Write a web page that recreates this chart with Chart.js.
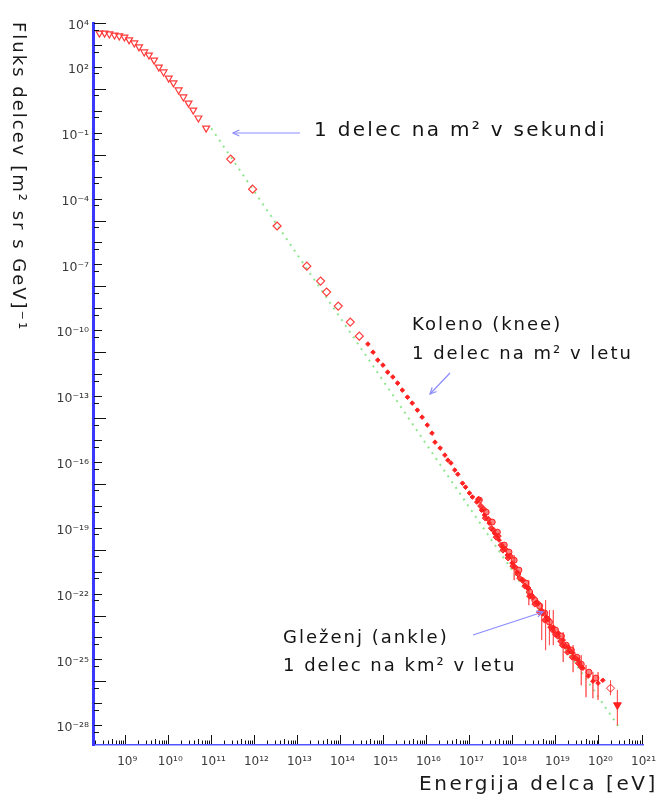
<!DOCTYPE html>
<html><head><meta charset="utf-8">
<script src="https://cdn.jsdelivr.net/npm/chart.js@4.4.1/dist/chart.umd.min.js"></script>
<style>html,body{margin:0;padding:0;background:#fff}canvas{display:block}</style>
</head><body>
<canvas id="c" width="664" height="800" style="width:664px;height:800px"></canvas>
<script>
// ---- DATA (log10 of energy in eV, log10 of flux) ----
const lowE_logE = [8.40,8.52,8.63,8.75,8.86,8.98,9.09,9.21,9.32,9.44,9.55,9.67,9.78,9.89,10.01,10.12,10.24,10.35,10.47,10.58,10.70,10.88];
const lowE_logF = [3.54,3.54,3.50,3.45,3.41,3.36,3.23,3.09,2.91,2.68,2.54,2.31,1.99,1.77,1.49,1.27,0.95,0.63,0.35,0.03,-0.33,-0.79];
const diam_logE = [11.45,11.96,12.53,13.22,13.54,13.68,13.95,14.23,14.44];
const diam_logF = [-2.20,-3.57,-5.25,-7.08,-7.76,-8.26,-8.90,-9.63,-10.27];
const knee_logE = [14.64,14.76,14.87,14.99,15.10,15.22,15.33,15.44,15.56,15.67,15.79,15.90,16.02,16.13,16.20,16.32,16.43,16.50,16.57,16.66,16.73,16.84,16.91,17.00,17.07,17.17,17.28,17.35,17.46,17.58,17.69,17.76,17.88,17.99,18.11,18.22,18.33,18.45,18.56,18.68,18.79,18.95,19.07,19.18,19.30,19.41,19.53,19.64,19.76,19.87,19.99,20.10];
const knee_logF = [-10.63,-11.00,-11.36,-11.59,-11.91,-12.13,-12.41,-12.73,-13.05,-13.32,-13.64,-13.96,-14.32,-14.69,-15.10,-15.37,-15.69,-15.92,-16.05,-16.37,-16.56,-16.97,-17.15,-17.42,-17.60,-17.83,-18.20,-18.42,-18.79,-19.25,-19.56,-19.88,-20.25,-20.61,-21.02,-21.39,-21.71,-22.07,-22.39,-22.76,-23.07,-23.53,-23.80,-24.12,-24.44,-24.71,-25.03,-25.40,-25.76,-25.99,-26.08,-25.95];
const ankle_logE = [17.23,17.39,17.53,17.65,17.81,17.92,18.04,18.15,18.31,18.40,18.52,18.63,18.75,18.86,19.00,19.14,19.25,19.37,19.50,19.60,19.78,19.94];
const ankle_logF = [-17.74,-18.29,-18.74,-19.20,-19.79,-20.11,-20.48,-20.93,-21.52,-21.93,-22.30,-22.57,-22.89,-23.30,-23.66,-23.94,-24.35,-24.58,-24.90,-25.22,-25.58,-25.85];
const band_logE = [17.21,17.26,17.33,17.37,17.44,17.51,17.56,17.62,17.67,17.74,17.78,17.83,17.90,17.95,18.01,18.06,18.13,18.17,18.24,18.29,18.36,18.40,18.47,18.52,18.59,18.63,18.70,18.75,18.82,18.89,18.93,19.00,19.05,19.12,19.16,19.23,19.28,19.34,19.39,19.46,19.53,19.60];
const band_logF = [-17.70,-18.01,-18.15,-18.56,-18.61,-19.02,-19.11,-19.43,-19.38,-19.79,-20.02,-19.97,-20.38,-20.29,-20.75,-20.80,-21.11,-21.30,-21.39,-21.66,-21.75,-22.12,-22.16,-22.48,-22.44,-22.85,-22.89,-23.21,-23.16,-23.53,-23.66,-23.85,-23.94,-24.17,-24.35,-24.40,-24.67,-24.62,-24.90,-24.94,-25.17,-25.35];
const tail_logE = [20.28];
const tail_logF = [-26.31];
const limit_logE = [20.44];
const limit_logF = [-27.08];
const err_logE = [18.04,18.38,18.68,18.77,18.86,18.95,19.18,19.41,19.60,19.71,19.87,19.99,20.28,20.44];
const err_hiF  = [-20.25,-21.39,-22.44,-22.30,-22.75,-22.75,-23.76,-24.35,-24.81,-25.26,-25.58,-25.58,-25.95,-26.40];
const err_loF  = [-21.39,-22.53,-24.12,-24.58,-24.35,-24.35,-25.12,-25.58,-26.18,-26.72,-26.77,-26.85,-26.63,-28.00];
const fit_logE = [11.0, 20.5];
const fit_logF = [-0.80, -28.16];
const xTickExp = [9,10,11,12,13,14,15,16,17,18,19,20,21];
const yTickExp = [4,2,-1,-4,-7,-10,-13,-16,-19,-22,-25,-28];

const SUP = {'0':'⁰','1':'¹','2':'²','3':'³','4':'⁴','5':'⁵','6':'⁶','7':'⁷','8':'⁸','9':'⁹','-':'⁻'};
const supLabel = e => '10' + String(e).split('').map(c=>SUP[c]).join('');
const pts = (xs, ys) => xs.map((x,i)=>({x:10**x, y:10**ys[i]}));

const RED = '#ff2020';
const datasets = [
  {data:pts(limit_logE,limit_logF), pointStyle:'triangle', rotation:180, pointRadius:4.5, backgroundColor:RED, borderColor:RED, borderWidth:1},
  {data:pts(tail_logE,tail_logF), pointStyle:'rectRot', pointRadius:4, backgroundColor:'rgba(0,0,0,0)', borderColor:RED, borderWidth:1},
  {data:pts(knee_logE,knee_logF), pointStyle:'rectRot', pointRadius:2.3, backgroundColor:RED, borderColor:RED, borderWidth:1},
  {data:pts(band_logE,band_logF), pointStyle:'rectRot', pointRadius:3, backgroundColor:'rgba(255,30,30,0.85)', borderColor:RED, borderWidth:1},
  {data:pts(ankle_logE,ankle_logF), pointStyle:'circle', pointRadius:3, backgroundColor:'rgba(255,40,40,0.6)', borderColor:RED, borderWidth:1},
  {data:pts(diam_logE,diam_logF), pointStyle:'rectRot', pointRadius:4, backgroundColor:'rgba(0,0,0,0)', borderColor:'#ff3a3a', borderWidth:1.2},
  {data:pts(lowE_logE,lowE_logF), pointStyle:'triangle', rotation:180, pointRadius:4, backgroundColor:'rgba(0,0,0,0)', borderColor:'#ff3a3a', borderWidth:1.2},
];
err_logE.forEach((e,i)=>{
  datasets.push({type:'line', data:pts([e,e],[err_hiF[i],err_loF[i]]), borderColor:'rgba(255,70,70,0.6)', borderWidth:1, pointRadius:0, showLine:true});
});
datasets.push({type:'line', data:pts(fit_logE,fit_logF), borderColor:'#8fe68f', borderWidth:2, borderDash:[2,5], pointRadius:0, showLine:true});

const tickPlugin = {
  id:'inTicks',
  afterDraw(chart){
    const {ctx, scales:{x,y}, chartArea:a} = chart;
    ctx.save(); ctx.strokeStyle='#111'; ctx.lineWidth=1;
    for (let e=4; e>=-29; e--) {
      const marks = [[10**e, ((4-e)%3===0)?12:8],[5*10**(e-1),5]];
      for (const [v,len] of marks) {
        const py = Math.round(y.getPixelForValue(v))+0.5;
        if (py < a.top-0.6 || py > a.bottom) continue;
        ctx.beginPath(); ctx.moveTo(a.left+1, py); ctx.lineTo(a.left+1+len, py); ctx.stroke();
      }
    }
    for (let e=8; e<=21; e++) {
      for (let k=1; k<=9; k++) {
        const v = k*10**e;
        const px = Math.round(x.getPixelForValue(v))+0.5;
        if (px < a.left+2 || px > a.right+0.5) continue;
        const len = k===1 ? 9 : (k===5 ? 5 : 3.5);
        ctx.beginPath(); ctx.moveTo(px, a.bottom-1); ctx.lineTo(px, a.bottom-1-len); ctx.stroke();
      }
    }
    ctx.restore();
  }
};

function arrow(ctx, x1,y1,x2,y2){
  ctx.beginPath(); ctx.moveTo(x1,y1); ctx.lineTo(x2,y2); ctx.stroke();
  const ang = Math.atan2(y2-y1, x2-x1), h=7;
  ctx.beginPath();
  ctx.moveTo(x2 - h*Math.cos(ang-0.45), y2 - h*Math.sin(ang-0.45));
  ctx.lineTo(x2,y2);
  ctx.lineTo(x2 - h*Math.cos(ang+0.45), y2 - h*Math.sin(ang+0.45));
  ctx.stroke();
}
const notePlugin = {
  id:'notes',
  afterDraw(chart){
    const ctx = chart.ctx;
    ctx.save();
    ctx.strokeStyle='#8c8cff'; ctx.lineWidth=1.2;
    arrow(ctx, 300,133, 233,133);
    arrow(ctx, 450,373, 430,394);
    arrow(ctx, 473,635, 543,612);
    ctx.fillStyle='#141414'; ctx.textBaseline='middle'; ctx.textAlign='left';
    ctx.font = '20px "DejaVu Sans"'; ctx.letterSpacing='2.3px';
    ctx.fillText('1 delec na m² v sekundi', 314, 131);
    ctx.font = '18px "DejaVu Sans"'; ctx.letterSpacing='2px';
    ctx.fillText('Koleno (knee)', 412, 325);
    ctx.fillText('1 delec na m² v letu', 412, 354);
    ctx.fillText('Gleženj (ankle)', 283, 638);
    ctx.fillText('1 delec na km² v letu', 283, 666);
    // axis titles
    ctx.fillStyle='#1a1a1a';
    ctx.font = '20px "DejaVu Sans"'; ctx.letterSpacing='2.6px'; ctx.textAlign='right';
    ctx.fillText('Energija delca [eV]', 658, 785);
    ctx.translate(18, 22); ctx.rotate(Math.PI/2);
    ctx.font = '18px "DejaVu Sans"'; ctx.letterSpacing='2px'; ctx.textAlign='left';
    ctx.fillText('Fluks delcev [m² sr s GeV]⁻¹', 0, 0);
    ctx.restore();
  }
};

new Chart(document.getElementById('c'), {
  type:'scatter',
  data:{datasets},
  plugins:[tickPlugin, notePlugin],
  options:{
    responsive:false, animation:false, devicePixelRatio:1,
    layout:{padding:{top:23, right:13, left:0, bottom:0}},
    plugins:{legend:{display:false}, tooltip:{enabled:false}},
    scales:{
      x:{
        type:'logarithmic', min:10**8.25, max:10**21.05,
        afterBuildTicks(s){ s.ticks = xTickExp.map(e=>({value:10**e})); },
        ticks:{autoSkip:false, maxRotation:0, minRotation:0, padding:10, labelOffset:2, color:'#3a3a3a',
          font:{family:'"DejaVu Sans"', size:12},
          callback:v=>supLabel(Math.round(Math.log10(v)))},
        grid:{display:false, drawTicks:false},
        border:{display:true, color:'#5555ff', width:1.5},
        afterFit(s){ s.height = 55; }
      },
      y:{
        type:'logarithmic', min:10**-28.9, max:10**4,
        afterBuildTicks(s){ s.ticks = yTickExp.map(e=>({value:10**e})); },
        ticks:{autoSkip:false, padding:4, labelOffset:3, color:'#3a3a3a',
          font:{family:'"DejaVu Sans"', size:12.5},
          callback:v=>supLabel(Math.round(Math.log10(v)))},
        grid:{display:false, drawTicks:false},
        border:{display:true, color:'#3a3aff', width:3},
        afterFit(s){ s.width = 93; }
      }
    }
  }
});
</script>
</body></html>
